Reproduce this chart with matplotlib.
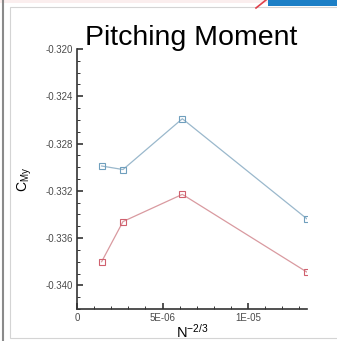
#!/usr/bin/env python3
"""Pitching moment coefficient vs grid spacing N^(-2/3) for two solution sets."""
import matplotlib

matplotlib.use("Agg")
import matplotlib.pyplot as plt
from matplotlib.lines import Line2D
from matplotlib.patches import Rectangle
from matplotlib.ticker import FixedLocator, MultipleLocator

plt.rcParams["font.family"] = ["Liberation Sans", "DejaVu Sans"]
plt.rcParams["mathtext.fontset"] = "custom"
plt.rcParams["mathtext.rm"] = "Liberation Sans"
plt.rcParams["mathtext.it"] = "Liberation Sans"

# grid refinement parameter N^(-2/3)
n_pow = [1.44e-6, 2.69e-6, 6.16e-6, 1.347e-5]
cmy_upper = [-0.3299, -0.3302, -0.3259, -0.3344]
cmy_lower = [-0.3380, -0.3346, -0.3323, -0.3389]

x_ticks = [0.0, 5e-6, 1e-5]
x_tick_labels = ["0", "5E-06", "1E-05"]
y_ticks = [-0.320, -0.324, -0.328, -0.332, -0.336, -0.340]
y_tick_labels = ["-0.320", "-0.324", "-0.328", "-0.332", "-0.336", "-0.340"]

W, H = 337, 341
fig = plt.figure(figsize=(W / 100, H / 100), dpi=100)

# panel frame around the plot
fig.add_artist(Line2D([2.5 / W, 2.5 / W], [0, 1], color="#8a8a8a", lw=1.5))
fig.add_artist(Rectangle((10 / W, 3 / H), (W - 9) / W, (H - 10) / H,
                         fill=False, ec="#d4d4d4", lw=0.8))
fig.add_artist(Rectangle((0, 1 - 3 / H), 1, 3 / H, fc="#fbeeee", ec="none"))
fig.add_artist(Rectangle((268 / W, 1 - 6 / H), 69 / W, 6 / H, fc="#1c7fc6", ec="none"))
fig.add_artist(Line2D([256 / W, 266 / W], [1 - 8 / H, 1.0], color="#e0404a", lw=1.2))

ax = fig.add_axes([77 / W, 1 - 309 / H, 230 / W, 260 / H])
ax.plot(n_pow, cmy_upper, color="#9ab8cc", lw=0.9, marker="s", ms=4.5,
        mfc="none", mec="#6f9fbd", mew=0.8)
ax.plot(n_pow, cmy_lower, color="#d99aa0", lw=0.9, marker="s", ms=4.5,
        mfc="none", mec="#d0606e", mew=0.8)

ax.set_xlim(0, 1.345e-5)
ax.set_ylim(-0.342, -0.320)
for side in ("top", "right"):
    ax.spines[side].set_visible(False)
for side in ("left", "bottom"):
    ax.spines[side].set_color("#333333")
    ax.spines[side].set_linewidth(1.2)

ax.xaxis.set_major_locator(FixedLocator(x_ticks))
ax.set_xticklabels(x_tick_labels)
ax.xaxis.set_minor_locator(MultipleLocator(1e-6))
ax.yaxis.set_major_locator(FixedLocator(y_ticks))
ax.set_yticklabels(y_tick_labels)
ax.yaxis.set_minor_locator(MultipleLocator(0.001))
ax.tick_params(which="both", direction="in", colors="#333333", labelcolor="#4a4a4a",
               labelsize=7)
ax.tick_params(which="major", length=4, width=1.2, pad=3)
ax.tick_params(which="minor", length=2, width=0.7)

ax.set_xlabel(r"N$^{\mathregular{-2/3}}$", fontsize=10.5, labelpad=0)
ax.set_ylabel(r"C$_{\mathregular{My}}$", fontsize=10, labelpad=8)

fig.text(191 / W, 1 - 45 / H, "Pitching Moment", fontsize=20.5, ha="center",
         va="baseline", color="black")

fig.savefig("out.png", dpi=100)
